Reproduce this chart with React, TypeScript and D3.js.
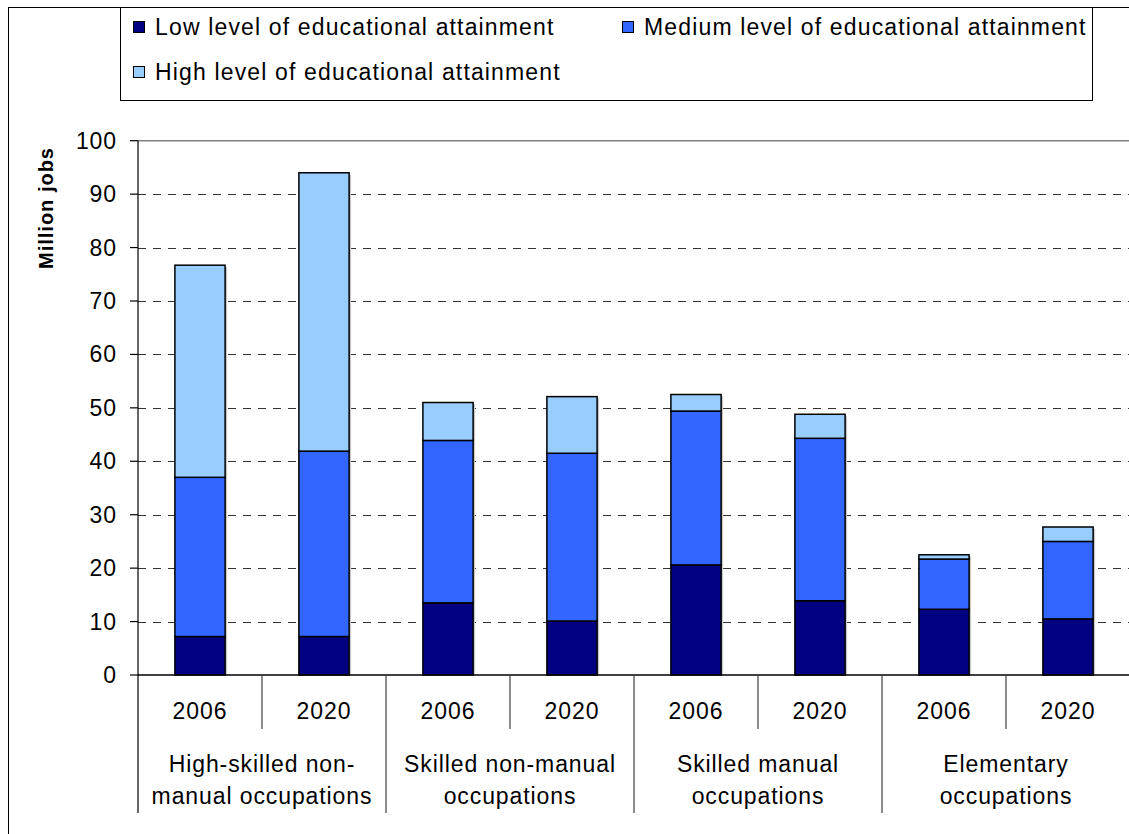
import React from "react";
import * as d3 from "d3";

const groupLines: string[][] = [
  ["High-skilled non-", "manual occupations"],
  ["Skilled non-manual", "occupations"],
  ["Skilled manual", "occupations"],
  ["Elementary", "occupations"],
];
const years = ["2006", "2020"];
const seriesNames = [
  "Low level of educational attainment",
  "Medium level of educational attainment",
  "High level of educational attainment",
];
const seriesColors = ["#000080", "#3366FF", "#99CCFF"];
const lowValues = [7.2, 7.2, 13.5, 10.1, 20.6, 13.9, 12.3, 10.5];
const mediumValues = [29.8, 34.7, 30.4, 31.4, 28.8, 30.4, 9.4, 14.5];
const highValues = [39.7, 52.1, 7.1, 10.6, 3.1, 4.5, 0.8, 2.7];
const yTicks = [0, 10, 20, 30, 40, 50, 60, 70, 80, 90, 100];

const W = 1129;
const H = 834;
const FONT = "'Liberation Sans', Arial, sans-serif";

export default function App() {
  const left = 138;
  const right = 1130;
  const top = 140.7;
  const bottom = 675;

  const rows = lowValues.map((_, i) => ({
    idx: i,
    low: lowValues[i],
    medium: mediumValues[i],
    high: highValues[i],
  }));
  const keys = ["low", "medium", "high"];
  const stacked = d3.stack<any>().keys(keys)(rows);

  const x = d3
    .scaleBand<number>()
    .domain(rows.map((r) => r.idx))
    .range([left, right])
    .padding(0);
  const y = d3.scaleLinear().domain([0, 100]).range([bottom, top]);
  const barW = x.bandwidth() * 0.405;
  const step = x.step();

  const totals = rows.map((r) => r.low + r.medium + r.high);

  return (
    <svg
      width={W}
      height={H}
      style={{ position: "absolute", left: 0, top: 0, background: "#fff" }}
      fontFamily={FONT}
    >
      {/* outer frame */}
      <rect x={8.5} y={7.5} width={1300} height={1000} fill="#fff" stroke="#000" strokeWidth={1} />

      {/* legend */}
      <rect x={120.5} y={7.5} width={972} height={93} fill="#fff" stroke="#000" strokeWidth={1} />
      {seriesNames.map((name, i) => {
        const col = i === 1 ? 1 : 0;
        const row = i === 2 ? 1 : 0;
        const mx = 133 + col * 489;
        const cy = 27 + row * 45;
        return (
          <g key={name}>
            <rect x={mx + 0.5} y={cy - 5.5} width={11} height={11} fill={seriesColors[i]} stroke="#000" strokeWidth={1} />
            <text x={mx + 22} y={cy} dominantBaseline="central" fontSize={23} letterSpacing={1.15} fill="#000">
              {name}
            </text>
          </g>
        );
      })}

      {/* plot top border */}
      <line x1={left} x2={right} y1={top} y2={top} stroke="#808080" strokeWidth={1.5} />

      {/* gridlines */}
      {yTicks.filter((t) => t > 0 && t < 100).map((t) => (
        <line
          key={"g" + t}
          x1={left}
          x2={right}
          y1={Math.round(y(t)) + 0.5}
          y2={Math.round(y(t)) + 0.5}
          stroke="#333"
          strokeWidth={1}
          strokeDasharray="8,7"
        />
      ))}

      {/* bar shadows */}
      {rows.map((r, i) => {
        const cx = (x(r.idx) as number) + step / 2;
        return (
          <rect
            key={"s" + i}
            x={cx - barW / 2 + 2}
            y={y(totals[i]) + 2}
            width={barW}
            height={bottom - y(totals[i]) - 2}
            fill="#c8c8c8"
          />
        );
      })}

      {/* bars */}
      {stacked.map((layer, si) => (
        <g key={layer.key}>
          {layer.map((d: any, i: number) => {
            const cx = (x(rows[i].idx) as number) + step / 2;
            return (
              <rect
                key={i}
                x={cx - barW / 2}
                y={y(d[1])}
                width={barW}
                height={y(d[0]) - y(d[1])}
                fill={seriesColors[si]}
                stroke="#000"
                strokeWidth={1.5}
              />
            );
          })}
        </g>
      ))}

      {/* y axis */}
      <line x1={left} x2={left} y1={top} y2={813} stroke="#000" strokeWidth={1.2} />
      {yTicks.map((t) => (
        <g key={"t" + t}>
          <line x1={left - 8} x2={left} y1={y(t)} y2={y(t)} stroke="#000" strokeWidth={1.2} />
          <text x={117} y={y(t)} textAnchor="end" dominantBaseline="central" fontSize={23} letterSpacing={0.9} fill="#000">
            {t}
          </text>
        </g>
      ))}
      <text
        transform={`translate(53,208) rotate(-90)`}
        textAnchor="middle"
        fontSize={20}
        fontWeight="bold"
        letterSpacing={1.0}
        fill="#000"
      >
        Million jobs
      </text>

      {/* x axis baseline */}
      <line x1={left} x2={right} y1={bottom} y2={bottom} stroke="#000" strokeWidth={1.5} />

      {/* year separators and labels */}
      {rows.map((r, i) => {
        const bx = x(r.idx) as number;
        return (
          <g key={"x" + i}>
            {i % 2 === 1 && (
              <line x1={bx} x2={bx} y1={bottom} y2={729} stroke="#404040" strokeWidth={1.2} />
            )}
            <text
              x={bx + step / 2}
              y={719}
              textAnchor="middle"
              fontSize={23}
              letterSpacing={0.9}
              fill="#000"
            >
              {years[i % 2]}
            </text>
          </g>
        );
      })}

      {/* group separators and labels */}
      {groupLines.map((lines, g) => {
        const gx = x(g * 2) as number;
        const cx = gx + step;
        return (
          <g key={"grp" + g}>
            {g > 0 && <line x1={gx} x2={gx} y1={bottom} y2={813} stroke="#404040" strokeWidth={1.2} />}
            {lines.map((ln, k) => (
              <text
                key={k}
                x={cx}
                y={772 + k * 32}
                textAnchor="middle"
                fontSize={23}
                letterSpacing={0.9}
                fill="#000"
              >
                {ln}
              </text>
            ))}
          </g>
        );
      })}
    </svg>
  );
}
